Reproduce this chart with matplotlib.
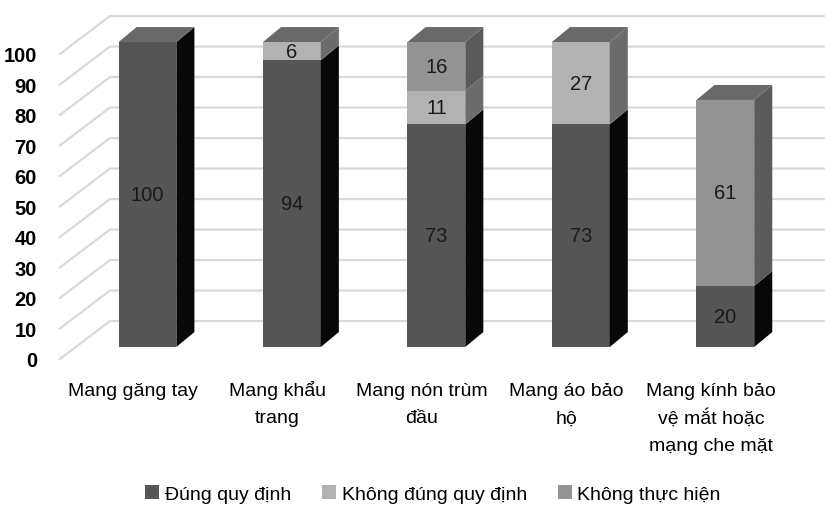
import matplotlib
matplotlib.use('Agg')
import matplotlib.pyplot as plt
from matplotlib.patches import Polygon
import numpy as np

plt.rcParams['font.family'] = ['Liberation Sans', 'DejaVu Sans']

# Données
categories = ['Mang găng tay', 'Mang khẩu\ntrang', 'Mang nón trùm\nđầu',
              'Mang áo bảo\nhộ', 'Mang kính bảo\nvệ mắt hoặc\nmạng che mặt']
series_names = ['Đúng quy định', 'Không đúng quy định', 'Không thực hiện']
dung = [100, 94, 73, 73, 20]
khong_dung = [0, 6, 11, 27, 0]
khong_thuc_hien = [0, 0, 16, 0, 61]
ticks = [0, 10, 20, 30, 40, 50, 60, 70, 80, 90, 100]

front_colors = ['#555555', '#b2b2b2', '#939393']
side_colors = ['#080808', '#6c6c6c', '#5a5a5a']
top_color = '#696969'
grid_color = '#d9d9d9'

# Géométrie "3D"
w = 0.40          # largeur de la face avant
dx, dy = 0.125, 4.9   # profondeur des barres
floor_off = -3.93     # décalage des étiquettes (bord avant du sol)
wall_off = 8.5        # décalage du mur du fond
x_front, x_wall = -0.606, -0.26

fig = plt.figure(figsize=(8.25, 5.06), dpi=100)
ax = fig.add_axes([55 / 825, 138 / 506, 770 / 825, 368 / 506])
ax.set_xlim(-0.64, 4.69)
ax.set_ylim(-6.56, 114.1)

# Grille en perspective
for v in ticks:
    ax.plot([x_front, x_wall, 4.69], [v + floor_off, v + wall_off, v + wall_off],
            color=grid_color, lw=1.6, zorder=1, clip_on=False)

x = np.arange(len(categories))
series = [dung, khong_dung, khong_thuc_hien]
bottom = np.zeros(len(categories))
for k, vals in enumerate(series):
    vals = np.array(vals, dtype=float)
    ax.bar(x, vals, w, bottom=bottom, color=front_colors[k], label=series_names[k],
           zorder=3, linewidth=0)
    for i in range(len(categories)):
        if vals[i] <= 0:
            continue
        b, t = bottom[i], bottom[i] + vals[i]
        xr = x[i] + w / 2
        ax.add_patch(Polygon([(xr, b), (xr + dx, b + dy), (xr + dx, t + dy), (xr, t)],
                             closed=True, fc=side_colors[k], ec='none', zorder=3))
        ax.text(x[i], (b + t) / 2, f'{vals[i]:g}', ha='center', va='center',
                fontsize=14.5, color='#1a1a1a', zorder=5)
    bottom = bottom + vals

# Faces supérieures
for i in range(len(categories)):
    t = bottom[i]
    xl, xr = x[i] - w / 2, x[i] + w / 2
    ax.add_patch(Polygon([(xl, t), (xr, t), (xr + dx, t + dy), (xl + dx, t + dy)],
                         closed=True, fc=top_color, ec='none', zorder=3))

# Étiquettes des catégories (une ligne à la fois)
for i, lab in enumerate(categories):
    for j, line in enumerate(lab.split('\n')):
        ax.text(x[i] - 0.1, -15.7 - 9.0 * j, line, ha='center', va='baseline',
                fontsize=14, color='black', clip_on=False)

ax.set_yticks(np.array(ticks) + floor_off, [str(v) for v in ticks])
ax.tick_params(axis='y', length=0, pad=13, labelsize=14.5)
for lab in ax.get_yticklabels():
    lab.set_fontweight('bold')
ax.set_xticks([])
for s in ax.spines.values():
    s.set_visible(False)

fig.legend(loc='center', bbox_to_anchor=(433 / 825, 1 - 495 / 506), ncol=3,
           frameon=False, fontsize=14, handlelength=0.7, handleheight=0.7,
           handletextpad=0.3, columnspacing=1.6, borderaxespad=0)

plt.savefig('out.png', dpi=100)
